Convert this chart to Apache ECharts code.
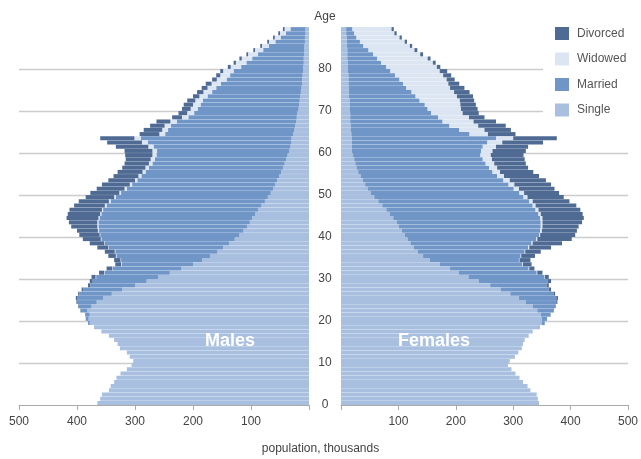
<!DOCTYPE html>
<html>
<head>
<meta charset="utf-8">
<script src="https://cdn.jsdelivr.net/npm/echarts@6/dist/echarts.min.js"></script>
<style>
  html, body { margin: 0; padding: 0; background: #fff; }
  #chart { width: 641px; height: 459px; }
</style>
</head>
<body>
<div id="chart"></div>
<script>
// ages 0..89, population in thousands
var ages = [];
for (var i = 0; i < 90; i++) ages.push(String(i));

var ageTicks = [0, 10, 20, 30, 40, 50, 60, 70, 80];
var popTicks = [100, 200, 300, 400, 500];

var maleSingle = [365,360,357,345,342,336,332,325,314,306, 303,309,314,326,330,336,345,358,369,378,
  380,378,382,375,366,355,340,322,300,280, 260,240,220,200,184,170,158,148,138,128,
  120,113,107,102,98,93,88,82,76,71, 66,62,58,55,51,48,45,42,39,37,
  34,32,31,30,27,25,24,22,21,20, 18,17,16,15,14,13,12,12,11,10,
  10,9,9,8,8,8,7,7,6,6];
var maleMarried = [0,0,0,0,0,0,0,0,0,0, 0,0,0,0,0,0,0,0,1,3,
  5,8,11,22,34,45,56,67,77,93, 107,112,118,123,140,162,176,197,214,230,
  240,249,256,261,263,265,267,267,266,262, 258,252,247,241,238,234,231,228,227,226,
  228,236,247,260,221,218,214,206,187,178, 174,170,167,160,153,147,140,130,125,120,
  107,99,89,80,71,61,51,42,34,26];
var maleWidowed = [0,0,0,0,0,0,0,0,0,0, 0,0,0,0,0,0,0,0,0,0,
  0,0,0,0,0,0,0,0,0,0, 1,1,1,1,1,1,1,1,1,1,
  1,2,2,2,2,2,2,3,3,3, 3,4,4,4,5,5,6,6,7,7,
  8,9,10,11,10,10,11,11,11,12, 12,13,13,14,15,15,16,17,17,18,
  18,18,18,17,14,12,11,10,10,10];
var maleDivorced = [0,0,0,0,0,0,0,0,0,0, 0,0,0,0,0,0,0,0,0,0,
  0,0,1,1,1,2,2,3,4,5, 7,9,10,10,11,13,17,19,25,31,
  35,36,45,49,55,56,56,53,52,49, 50,48,48,46,43,43,40,42,43,47,
  48,56,60,59,34,32,25,24,17,15, 15,16,14,11,11,10,10,8,7,5,
  5,4,4,3,3,3,3,3,3,3];

var femaleSingle = [345,343,341,330,325,317,311,304,297,291, 294,303,309,315,317,320,327,334,344,350,
  350,348,342,334,322,310,295,278,260,240, 222,205,190,172,155,143,134,127,121,116,
  111,106,101,97,91,85,79,72,65,58, 52,47,42,38,34,30,27,25,23,21,
  19,19,19,19,18,17,17,16,16,16, 15,15,15,14,14,14,13,13,13,12,
  12,12,11,11,11,10,10,10,9,9];
var femaleMarried = [0,0,0,0,0,0,0,0,0,0, 0,0,0,0,0,0,0,0,2,5,
  9,16,28,39,53,65,75,84,98,120, 132,136,137,144,155,170,186,199,211,224,
  234,241,247,251,256,259,260,262,263,260, 259,254,250,245,238,234,231,227,224,222,
  225,228,236,251,206,189,172,161,153,141, 136,131,122,116,109,100,95,89,81,74,
  67,58,52,45,37,29,23,17,14,11];
var femaleWidowed = [0,0,0,0,0,0,0,0,0,0, 0,0,0,0,0,0,0,0,0,0,
  0,0,0,0,0,0,0,0,0,0, 1,1,1,1,1,1,1,2,2,2,
  2,3,3,3,4,4,5,5,6,7, 8,9,10,11,12,13,14,15,16,18,
  20,23,26,30,32,44,50,54,54,55, 58,62,70,72,74,76,79,82,84,86,
  88,90,88,82,80,81,78,75,70,68];
var femaleDivorced = [0,0,0,0,0,0,0,0,0,0, 0,0,0,0,0,0,0,0,0,0,
  0,1,1,1,2,3,3,4,4,6, 7,9,9,15,19,24,27,38,51,60,
  61,61,63,69,72,73,73,71,64,63, 61,62,64,63,61,58,54,55,57,57,
  58,56,71,76,48,46,48,39,27,28, 29,27,25,28,27,25,19,14,14,13,
  6,5,5,5,5,4,4,4,4,4];

var colors = { Single: '#a8bfe0', Married: '#7096c8', Widowed: '#dce6f3', Divorced: '#4f6b94' };
var font = '"Liberation Sans", Arial, sans-serif';

var gridColors = ['rgba(0,0,0,0)'];
for (var k = 0; k < 8; k++) gridColors.push('#cccccc');
gridColors.push('rgba(0,0,0,0)');

function barSeries(name, data, idx, stack) {
  return {
    name: name, type: 'bar', stack: stack, data: data,
    xAxisIndex: idx, yAxisIndex: idx * 2,
    barCategoryGap: '4%',
    itemStyle: { color: colors[name] },
    emphasis: { disabled: true },
    animation: false
  };
}

function xAxis(gridIndex, inverse) {
  return {
    type: 'value', gridIndex: gridIndex, inverse: inverse,
    min: 0, max: 500, interval: 100,
    axisLine: { show: true, lineStyle: { color: '#aaaaaa' } },
    axisTick: { show: true, length: 5, lineStyle: { color: '#aaaaaa' } },
    splitLine: { show: false },
    axisLabel: {
      color: '#444', fontSize: 12, fontFamily: font, margin: 11,
      formatter: function (v) { return popTicks.indexOf(v) >= 0 ? String(v) : ''; }
    }
  };
}

function catAxis(gridIndex) {
  return {
    type: 'category', gridIndex: gridIndex, data: ages,
    show: false
  };
}

function valAxis(gridIndex, showLabels) {
  return {
    type: 'value', gridIndex: gridIndex, min: 0, max: 90, interval: 10,
    position: 'right', offset: showLabels ? 16 : 0,
    axisLine: { show: false }, axisTick: { show: false },
    name: showLabels ? 'Age' : '',
    nameLocation: 'end', nameGap: 4,
    nameTextStyle: { color: '#444', fontSize: 12, fontFamily: font, align: 'center' },
    axisLabel: {
      show: showLabels, color: '#444', fontSize: 12, fontFamily: font, margin: 0, align: 'center',
      formatter: function (v) { return ageTicks.indexOf(v) >= 0 ? String(v) : ''; }
    },
    splitLine: { show: true, lineStyle: { color: gridColors, width: 1.3 } }
  };
}

var chart = echarts.init(document.getElementById('chart'));
chart.setOption({
  backgroundColor: '#fff',
  animation: false,
  grid: [
    { left: 19, width: 290, top: 27, height: 378 },
    { left: 341, width: 288, top: 27, height: 378 }
  ],
  xAxis: [xAxis(0, true), xAxis(1, false)],
  yAxis: [catAxis(0), valAxis(0, true), catAxis(1), valAxis(1, false)],
  legend: {
    data: ['Divorced', 'Widowed', 'Married', 'Single'],
    orient: 'vertical', left: 543, top: 22,
    padding: [5, 8, 5, 12], itemGap: 12.5, itemWidth: 14, itemHeight: 13,
    backgroundColor: '#fff', z: 10,
    icon: 'rect',
    textStyle: { color: '#555', fontSize: 12, fontFamily: font, padding: [0, 0, 0, 3] }
  },
  graphic: [
    { type: 'text', left: 'center', top: 443, style: { text: 'population, thousands', fill: '#444', font: '12px ' + font } },
    { type: 'text', x: 230, y: 341, style: { text: 'Males', fill: '#fff', font: 'bold 18px ' + font, textAlign: 'center', textVerticalAlign: 'middle' }, z: 20 },
    { type: 'text', x: 434, y: 341, style: { text: 'Females', fill: '#fff', font: 'bold 18px ' + font, textAlign: 'center', textVerticalAlign: 'middle' }, z: 20 }
  ],
  series: [
    barSeries('Single', maleSingle, 0, 'm'),
    barSeries('Married', maleMarried, 0, 'm'),
    barSeries('Widowed', maleWidowed, 0, 'm'),
    barSeries('Divorced', maleDivorced, 0, 'm'),
    barSeries('Single', femaleSingle, 1, 'f'),
    barSeries('Married', femaleMarried, 1, 'f'),
    barSeries('Widowed', femaleWidowed, 1, 'f'),
    barSeries('Divorced', femaleDivorced, 1, 'f')
  ]
});
</script>
</body>
</html>
